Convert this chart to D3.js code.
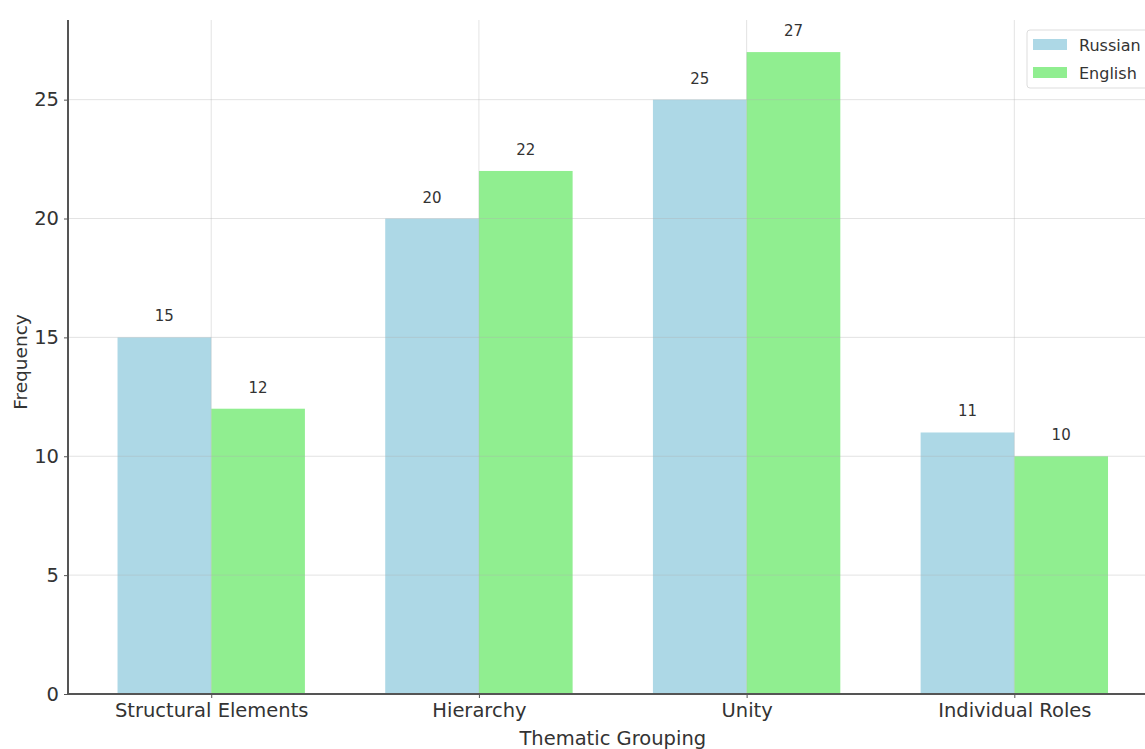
<!DOCTYPE html>
<html><head><meta charset="utf-8">
<script src="https://cdn.jsdelivr.net/npm/d3@7"></script>
<style>
html,body{margin:0;padding:0;background:#fff;overflow:hidden;}
svg{display:block;font-family:"DejaVu Sans",sans-serif;}
</style></head>
<body><svg id="c" width="1145" height="749"></svg>
<script>
const categories = ["Structural Elements", "Hierarchy", "Unity", "Individual Roles"];
const seriesNames = ["Russian", "English"];
const russian = [15, 20, 25, 11];
const english = [12, 22, 27, 10];
const yTicks = [0, 5, 10, 15, 20, 25];
const colors = ["#ADD8E6", "#90EE90"];

const svg = d3.select("#c");
const L = 68, T = 20, B = 694;
const barW = 0.35;
const xmin = -0.535, xmax = 3.535;
const unit = 267.7;
const R = L + (xmax - xmin) * unit;

const x = d3.scaleLinear().domain([xmin, xmax]).range([L, R]);
const y = d3.scaleLinear().domain([0, 28.35]).range([B, T]);

const data = [russian, english];

// bars
data.forEach((vals, s) => {
  svg.append("g").selectAll("rect").data(vals).join("rect")
    .attr("x", (d, i) => x(s === 0 ? i - barW : i))
    .attr("y", d => y(d))
    .attr("width", x(barW) - x(0))
    .attr("height", d => y(0) - y(d))
    .attr("fill", colors[s]);
});

// grid on top
const g = svg.append("g");
g.selectAll("line.h").data(yTicks).join("line")
  .attr("x1", L).attr("x2", R).attr("y1", d => y(d)).attr("y2", d => y(d))
  .attr("stroke", "#b0b0b0").attr("stroke-opacity", 0.35).attr("stroke-width", 1);
g.selectAll("line.v").data(categories).join("line")
  .attr("x1", (d, i) => x(i)).attr("x2", (d, i) => x(i)).attr("y1", T).attr("y2", B)
  .attr("stroke", "#b0b0b0").attr("stroke-opacity", 0.35).attr("stroke-width", 1);

// value labels
data.forEach((vals, s) => {
  svg.append("g").selectAll("text").data(vals).join("text")
    .attr("x", (d, i) => x(s === 0 ? i - barW / 2 : i + barW / 2))
    .attr("y", d => y(d) - 16)
    .attr("text-anchor", "middle")
    .attr("font-size", 15).attr("fill", "#333")
    .text(d => d);
});

// axes
const yAxis = d3.axisLeft(y).tickValues(yTicks).tickSize(4).tickPadding(5);
const ya = svg.append("g").attr("transform", `translate(${L},0)`).call(yAxis);
ya.select(".domain").remove();
ya.selectAll("line").attr("stroke", "#555");
ya.selectAll("text").attr("font-size", 19.5).attr("fill", "#333").attr("font-family", "DejaVu Sans");

const xAxis = d3.axisBottom(x).tickValues(d3.range(categories.length)).tickFormat(i => categories[i]).tickSize(4).tickPadding(5);
const xa = svg.append("g").attr("transform", `translate(0,${B})`).call(xAxis);
xa.select(".domain").remove();
xa.selectAll("line").attr("stroke", "#555");
xa.selectAll("text").attr("font-size", 19.5).attr("fill", "#333").attr("font-family", "DejaVu Sans");

// spines
svg.append("line").attr("x1", L).attr("x2", L).attr("y1", T).attr("y2", B + 1)
  .attr("stroke", "#555").attr("stroke-width", 2);
svg.append("line").attr("x1", L - 1).attr("x2", R).attr("y1", B).attr("y2", B)
  .attr("stroke", "#555").attr("stroke-width", 2);

// axis titles
svg.append("text").attr("x", x(1.5)).attr("y", 745).attr("text-anchor", "middle")
  .attr("font-size", 19.5).attr("fill", "#333").text("Thematic Grouping");
svg.append("text").attr("transform", `translate(27,${(T + B) / 2 + 5}) rotate(-90)`)
  .attr("text-anchor", "middle").attr("font-size", 18.5).attr("fill", "#333").text("Frequency");

// legend
const lg = svg.append("g").attr("transform", "translate(1027,30)");
lg.append("rect").attr("x", 0).attr("y", 0).attr("width", 140).attr("height", 58).attr("rx", 3)
  .attr("fill", "#fff").attr("fill-opacity", 0.8).attr("stroke", "#ddd");
seriesNames.forEach((n, i) => {
  lg.append("rect").attr("x", 6).attr("y", 9 + i * 28).attr("width", 34).attr("height", 11).attr("fill", colors[i]);
  lg.append("text").attr("x", 52).attr("y", 21 + i * 28).attr("font-size", 16).attr("fill", "#333").text(n);
});
</script></body></html>
